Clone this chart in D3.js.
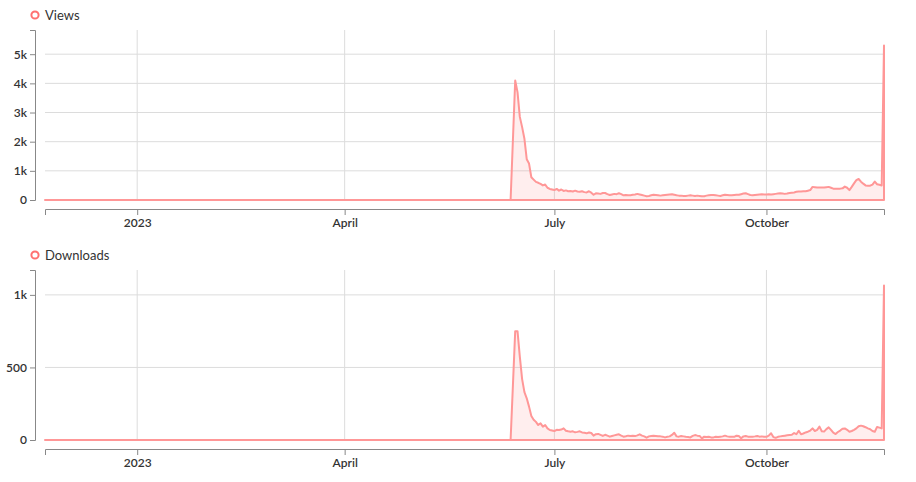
<!DOCTYPE html>
<html>
<head>
<meta charset="utf-8">
<script src="https://cdn.jsdelivr.net/npm/d3@7"></script>
<style>
  html, body { margin: 0; padding: 0; background: #fff; }
  svg { display: block; font-family: Lato, "Open Sans", sans-serif; }
</style>
</head>
<body>
<svg id="chart" width="916" height="482"></svg>
<script>
// ---- data ----
const domainStart = "2022-11-22";
const domainEnd = "2023-11-21";
const seriesStart = "2023-06-12"; // first daily value
const viewsValues = [
  // June 12-30
  0, 2050, 4100, 3700, 2850, 2500, 2100, 1400, 1250, 780, 700, 620, 590, 550, 500, 530, 420, 380, 360,
  // July
  340, 380, 320, 360, 310, 330, 300, 310, 290, 320, 290, 280, 300, 270, 260, 300, 250, 180, 230, 220, 210, 240, 240, 200, 170, 190, 210, 200, 230, 200, 160,
  // August
  170, 160, 160, 180, 190, 210, 190, 170, 150, 130, 140, 160, 180, 170, 160, 150, 160, 170, 180, 190, 200, 180, 160, 150, 150, 140, 140, 150, 160, 150, 140,
  // September
  150, 140, 130, 130, 150, 160, 170, 170, 160, 150, 140, 160, 180, 170, 160, 160, 170, 180, 180, 200, 220, 230, 200, 170, 160, 170, 180, 190, 200, 190,
  // October
  190, 200, 190, 200, 210, 220, 230, 220, 210, 220, 240, 250, 260, 280, 290, 290, 300, 300, 320, 340, 450, 440, 430, 430, 430, 430, 440, 450, 420, 390, 390,
  // November 1-21
  390, 390, 400, 460, 420, 340, 450, 570, 680, 720, 630, 560, 500, 490, 490, 530, 630, 540, 520, 500, 5300
];
const downloadsValues = [
  // June 12-30
  0, 375, 750, 750, 575, 420, 330, 287, 230, 165, 140, 125, 103, 115, 92, 103, 80, 69, 66,
  // July
  62, 70, 69, 72, 80, 64, 60, 57, 60, 53, 56, 60, 52, 50, 46, 52, 48, 30, 40, 42, 35, 28, 36, 30, 23, 28, 32, 36, 39, 30, 23,
  // August
  26, 30, 28, 30, 27, 32, 39, 30, 25, 16, 25, 28, 30, 28, 26, 25, 23, 18, 22, 25, 35, 50, 25, 23, 28, 25, 22, 20, 18, 28, 34,
  // September
  30, 28, 11, 23, 20, 22, 18, 18, 22, 20, 23, 25, 30, 25, 22, 23, 22, 30, 27, 12, 25, 28, 23, 22, 23, 25, 28, 23, 25, 23,
  // October
  22, 30, 46, 20, 15, 22, 25, 28, 30, 32, 34, 36, 48, 40, 64, 40, 45, 52, 57, 65, 80, 62, 70, 92, 60, 58, 75, 87, 70, 50, 41,
  // November 1-21
  55, 65, 78, 80, 70, 57, 62, 70, 80, 95, 99, 95, 88, 80, 74, 62, 57, 90, 85, 80, 1065
];
const xTickDates = ["2023-01-01", "2023-04-01", "2023-07-01", "2023-10-01"];
const xTickLabels = ["2023", "April", "July", "October"];
const viewsTicks = [0, 1000, 2000, 3000, 4000, 5000];
const downloadsTicks = [0, 500, 1000];
const seriesNames = ["Views", "Downloads"];

// ---- drawing ----
const parse = d3.utcParse("%Y-%m-%d");
const svg = d3.select("#chart");
const lineColor = "#ff9797";
const markerColor = "#ff7070";

const x = d3.scaleUtc()
  .domain([parse(domainStart), parse(domainEnd)])
  .range([45, 884]);

function buildPoints(values) {
  const s = parse(seriesStart);
  const pts = [{ date: parse(domainStart), value: 0 }];
  values.forEach((v, i) => pts.push({ date: d3.utcDay.offset(s, i), value: v }));
  return pts;
}

function drawPanel(name, values, ticks, top, bottom) {
  const pts = buildPoints(values);
  const maxV = d3.max(values) * 1.1;
  const y = d3.scaleLinear().domain([0, maxV]).range([bottom, top]);
  const g = svg.append("g");

  // grid
  g.append("g").selectAll("line.h").data(ticks.filter(t => t > 0)).join("line")
    .attr("x1", x.range()[0]).attr("x2", x.range()[1])
    .attr("y1", d => y(d)).attr("y2", d => y(d))
    .attr("stroke", "#dcdcdc").attr("stroke-width", 1);
  g.append("g").selectAll("line.v").data(xTickDates).join("line")
    .attr("x1", d => x(parse(d))).attr("x2", d => x(parse(d)))
    .attr("y1", top).attr("y2", bottom)
    .attr("stroke", "#dcdcdc").attr("stroke-width", 1);

  // area + line
  const area = d3.area().x(d => x(d.date)).y0(y(0)).y1(d => y(d.value));
  g.append("path").datum(pts)
    .attr("d", area)
    .attr("fill", "rgba(255,120,120,0.13)")
    .attr("stroke", lineColor)
    .attr("stroke-width", 2)
    .attr("stroke-linejoin", "round");

  // y axis
  const yAxis = d3.axisLeft(y).tickValues(ticks).tickFormat(d3.format("~s")).tickSize(5).tickSizeOuter(5).tickPadding(3);
  const ya = g.append("g").attr("transform", "translate(35,0)").call(yAxis);
  styleAxis(ya);

  // x axis
  const xAxis = d3.axisBottom(x)
    .tickValues(xTickDates.map(parse))
    .tickFormat((d, i) => xTickLabels[i])
    .tickSize(6).tickSizeOuter(6).tickPadding(3);
  const xa = g.append("g").attr("transform", `translate(0,${bottom + 9})`).call(xAxis);
  styleAxis(xa);

  // legend
  const ly = top - 15;
  g.append("circle").attr("cx", 35).attr("cy", ly).attr("r", 3.6)
    .attr("fill", "none").attr("stroke", markerColor).attr("stroke-width", 2);
  g.append("text").attr("x", 45).attr("y", ly).attr("dy", "0.35em")
    .attr("font-size", 13).attr("fill", "#333").text(name);
}

function styleAxis(sel) {
  sel.select(".domain").attr("stroke", "#888");
  sel.selectAll(".tick line").attr("stroke", "#888");
  sel.selectAll(".tick text").attr("fill", "#333").attr("font-size", 12).attr("font-weight", 600)
    .attr("font-family", "Lato, 'Open Sans', sans-serif");
}

drawPanel(seriesNames[0], viewsValues, viewsTicks, 30, 200);
drawPanel(seriesNames[1], downloadsValues, downloadsTicks, 270, 440);
</script>
</body>
</html>
